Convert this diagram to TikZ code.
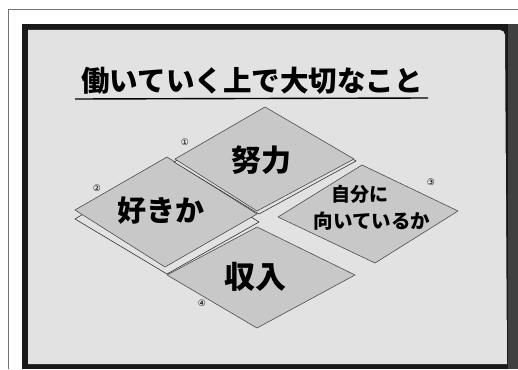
\documentclass[tikz,border=0pt]{standalone}
\usepackage{fontspec}
\newfontfamily\jp{Noto Sans CJK JP}
\newfontfamily\dej{DejaVu Sans}
\begin{document}
\begin{tikzpicture}[x=1pt,y=-1pt,
  card/.style={fill=cardgray,draw=black!70,line width=0.6pt,line join=round},
  backcard/.style={fill=boardgray,draw=black!80,line width=0.6pt,line join=round},
  lbl/.style={font=\jp\bfseries,inner sep=0pt,text=black},
  num/.style={font=\dej\fontsize{9}{9}\selectfont,inner sep=0pt,text=black}]
\definecolor{boardgray}{RGB}{226,226,226}
\definecolor{cardgray}{RGB}{200,200,200}
\useasboundingbox (0,0) rectangle (518,369);
\fill[white] (0,0) rectangle (518,369);
% outer thin frame
\draw[black!55,line width=1pt] (518,10) -- (8,10) -- (8,369);
% black board frame
\fill[black!90] (22,24) rectangle (518,369);
\fill[black!75] (508,24) rectangle (518,369);
\fill[boardgray] (28,364) -- (28,30) [rounded corners=5pt] -- (505,30) [sharp corners] -- (507,364) -- cycle;
% title
\node[lbl,font=\jp\bfseries\fontsize{28.5}{28.5}\selectfont] (title) at (252,81) {働いていく上で大切なこと};
\coordinate (ulA) at (75,99);
\coordinate (ulB) at (428,98);
\draw[black,line width=1.4pt] (ulA) -- (ulB);
% card 2 (back card and front card)
\draw[backcard] (75,219) -- (167,164) -- (259,222) -- (167,274) -- cycle;
\draw[card] (75,210) -- (167,157) -- (257,214) -- (165,267) -- cycle;
% card 1
\draw[backcard] (174,162) -- (266,110) -- (356,161) -- (259,214) -- cycle;
\draw[card] (175,159) -- (265,107) -- (354,159) -- (257,211) -- cycle;
% card 3
\draw[card] (278,217) -- (362,165) -- (458,211) -- (375,263) -- cycle;
% card 4
\draw[card] (167,275) -- (257,227) -- (355,275) -- (257,328) -- cycle;
% card labels
\node[lbl,font=\jp\bfseries\fontsize{30}{30}\selectfont] (c1) at (261,160) {努力};
\node[lbl,font=\jp\bfseries\fontsize{29}{29}\selectfont] (c2) at (161,211) {好きか};
\node[lbl,font=\jp\bfseries\fontsize{19}{19}\selectfont] (c3a) at (360,194) {自分に};
\node[lbl,font=\jp\bfseries\fontsize{19.5}{19.5}\selectfont] (c3b) at (372,221) {向いているか};
\node[lbl,font=\jp\bfseries\fontsize{31}{31}\selectfont] (c4) at (255,277) {収入};
% circled numbers
\node[num] (n1) at (185,142) {①};
\node[num] (n2) at (97,188) {②};
\node[num] (n3) at (431,182) {③};
\node[num] (n4) at (202,303) {④};
\end{tikzpicture}
\end{document}
